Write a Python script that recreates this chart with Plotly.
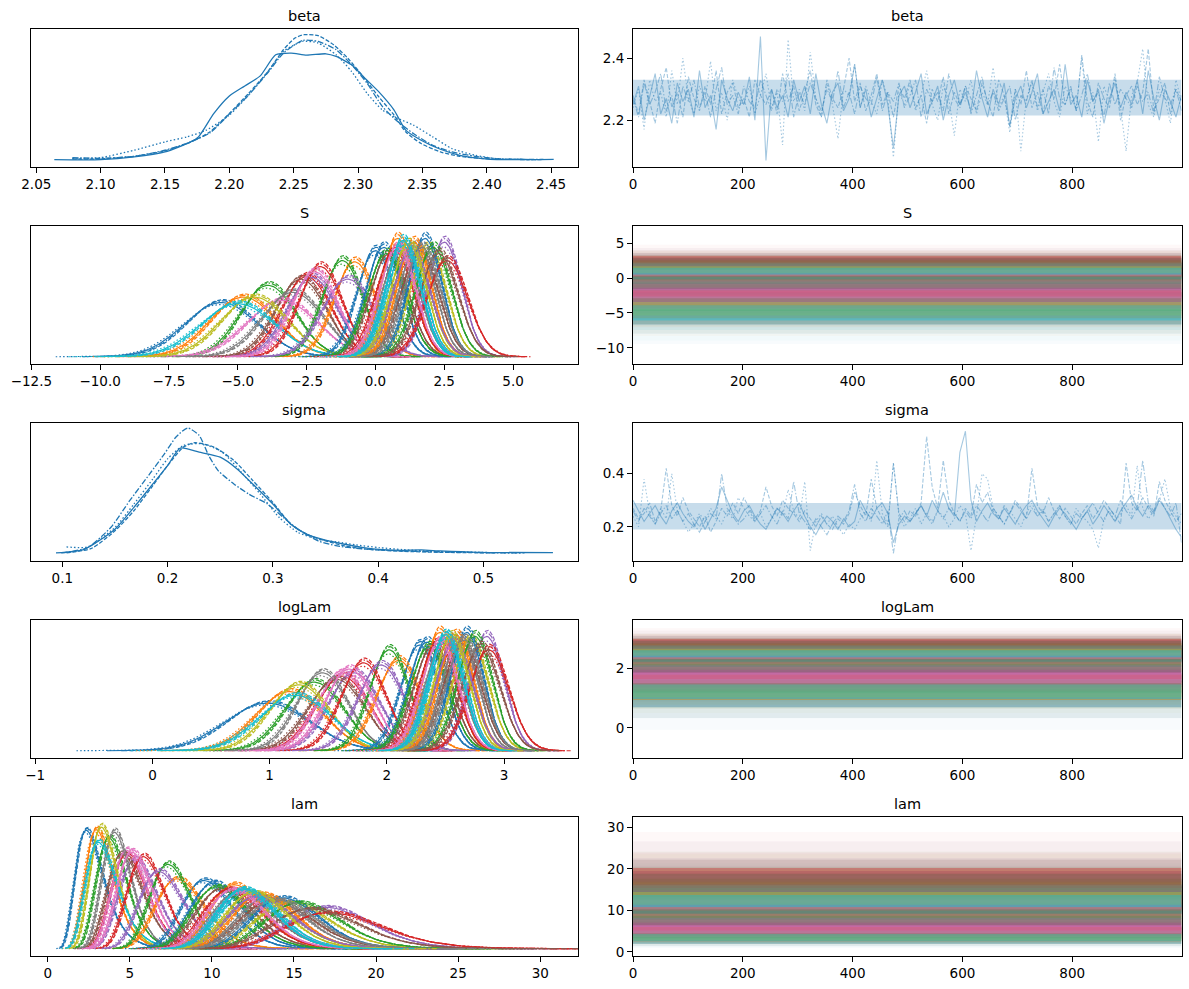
import numpy as np
import plotly.graph_objects as go

FIG_W, FIG_H = 1189, 989
TAB10 = ["#1f77b4", "#ff7f0e", "#2ca02c", "#d62728", "#9467bd",
         "#8c564b", "#e377c2", "#7f7f7f", "#bcbd22", "#17becf"]
CHAIN_DASH = ["solid", "4px,1.8px", "1.5px,2.2px", "6px,1.8px,1.5px,1.8px"]
TITLES = ["beta", "beta", "S", "S", "sigma", "sigma", "logLam", "logLam", "lam", "lam"]
N_DRAWS = 1000

# ---------------- beta: per-chain KDE (x, relative height) ----------------
BETA_KDE_X = [
    [2.064, 2.100, 2.126, 2.150, 2.170, 2.176, 2.188, 2.200, 2.212, 2.224, 2.236, 2.248, 2.260,
     2.275, 2.283, 2.295, 2.304, 2.316, 2.328, 2.337, 2.349, 2.364, 2.379, 2.397, 2.408, 2.452],
    [2.078, 2.100, 2.126, 2.150, 2.170, 2.185, 2.200, 2.215, 2.230, 2.242, 2.251, 2.258, 2.269,
     2.281, 2.292, 2.304, 2.316, 2.328, 2.337, 2.349, 2.364, 2.379, 2.402, 2.444],
    [2.078, 2.100, 2.126, 2.150, 2.167, 2.182, 2.200, 2.215, 2.230, 2.242, 2.257, 2.269, 2.283,
     2.295, 2.307, 2.319, 2.331, 2.343, 2.358, 2.373, 2.391, 2.408, 2.438],
    [2.078, 2.100, 2.126, 2.150, 2.170, 2.185, 2.200, 2.215, 2.230, 2.242, 2.257, 2.269, 2.283,
     2.295, 2.307, 2.319, 2.331, 2.343, 2.358, 2.373, 2.391, 2.411, 2.444],
]
BETA_KDE_H = [
    [0, 0, 8, 23, 53, 68, 138, 190, 220, 250, 313, 318, 312, 316, 308, 283, 248, 203, 148, 88,
     58, 31, 13, 3, 0, 1],
    [2, 2, 10, 26, 53, 83, 138, 198, 263, 328, 363, 373, 370, 343, 303, 248, 188, 133, 83, 48,
     23, 10, 2, 0],
    [3, 6, 28, 53, 68, 88, 133, 193, 263, 323, 353, 348, 313, 263, 198, 148, 123, 103, 68, 33,
     13, 3, 0],
    [6, 4, 10, 28, 53, 80, 136, 193, 260, 318, 356, 353, 328, 283, 228, 158, 113, 78, 43, 23,
     10, 2, 1],
]

# ---------------- sigma: per-chain KDE ----------------
SIGMA_KDE_X = [
    [0.094, 0.121, 0.150, 0.168, 0.186, 0.200, 0.212, 0.230, 0.250, 0.266, 0.284, 0.300, 0.317,
     0.332, 0.350, 0.368, 0.386, 0.404, 0.423, 0.441, 0.459, 0.495, 0.566],
    [0.104, 0.128, 0.150, 0.168, 0.186, 0.200, 0.215, 0.226, 0.244, 0.263, 0.281, 0.300, 0.317,
     0.332, 0.350, 0.368, 0.390, 0.423, 0.459, 0.513],
    [0.104, 0.124, 0.150, 0.168, 0.186, 0.200, 0.215, 0.233, 0.252, 0.270, 0.288, 0.306, 0.324,
     0.343, 0.361, 0.379, 0.401, 0.423, 0.459, 0.535],
    [0.099, 0.124, 0.146, 0.164, 0.183, 0.197, 0.208, 0.219, 0.230, 0.239, 0.248, 0.263, 0.277,
     0.295, 0.310, 0.324, 0.343, 0.361, 0.386, 0.423, 0.477, 0.539],
]
SIGMA_KDE_H = [
    [0, 11, 71, 136, 206, 261, 313, 301, 286, 251, 196, 146, 86, 56, 38, 26, 16, 10, 8, 9, 6, 2, 1],
    [0, 14, 66, 126, 201, 261, 316, 329, 316, 276, 216, 151, 86, 56, 36, 21, 11, 5, 2, 0],
    [18, 18, 76, 146, 221, 281, 321, 326, 301, 241, 176, 106, 61, 41, 33, 24, 16, 10, 4, 0],
    [0, 16, 76, 156, 236, 296, 346, 373, 351, 291, 246, 206, 176, 146, 106, 71, 36, 21, 12, 6, 2, 0],
]

# ---------------- beta / sigma traces (every ~10th draw, 4 chains) ----------------
BETA_TRACE = [
    [2.25, 2.31, 2.20, 2.28, 2.35, 2.22, 2.27, 2.19, 2.32, 2.26,
     2.30, 2.21, 2.36, 2.24, 2.28, 2.17, 2.33, 2.27, 2.23, 2.29,
     2.25, 2.34, 2.20, 2.47, 2.07, 2.30, 2.24, 2.28, 2.21, 2.33,
     2.26, 2.31, 2.22, 2.35, 2.25, 2.19, 2.29, 2.32, 2.23, 2.27,
     2.38, 2.24, 2.30, 2.21, 2.27, 2.33, 2.25, 2.11, 2.28, 2.31,
     2.24, 2.29, 2.35, 2.22, 2.26, 2.31, 2.20, 2.28, 2.33, 2.25,
     2.29, 2.23, 2.36, 2.27, 2.21, 2.30, 2.25, 2.32, 2.18, 2.27,
     2.31, 2.24, 2.29, 2.35, 2.22, 2.26, 2.30, 2.23, 2.38, 2.25,
     2.28, 2.21, 2.33, 2.26, 2.30, 2.19, 2.27, 2.32, 2.24, 2.29,
     2.25, 2.33, 2.22, 2.36, 2.27, 2.20, 2.30, 2.26, 2.21, 2.28],
    [2.28, 2.22, 2.33, 2.26, 2.19, 2.30, 2.37, 2.24, 2.29, 2.21,
     2.34, 2.27, 2.23, 2.31, 2.25, 2.36, 2.22, 2.29, 2.32, 2.24,
     2.27, 2.21, 2.33, 2.28, 2.25, 2.30, 2.22, 2.35, 2.26, 2.31,
     2.23, 2.29, 2.36, 2.25, 2.21, 2.33, 2.27, 2.24, 2.30, 2.40,
     2.26, 2.32, 2.23, 2.28, 2.35, 2.25, 2.29, 2.21, 2.31, 2.27,
     2.33, 2.24, 2.28, 2.19, 2.30, 2.26, 2.34, 2.22, 2.29, 2.25,
     2.31, 2.27, 2.23, 2.32, 2.26, 2.21, 2.33, 2.28, 2.18, 2.30,
     2.25, 2.36, 2.24, 2.29, 2.22, 2.31, 2.27, 2.38, 2.25, 2.30,
     2.23, 2.41, 2.26, 2.21, 2.32, 2.27, 2.24, 2.35, 2.20, 2.28,
     2.31, 2.25, 2.29, 2.43, 2.23, 2.27, 2.32, 2.22, 2.30, 2.26],
    [2.24, 2.30, 2.17, 2.33, 2.26, 2.29, 2.21, 2.36, 2.25, 2.40,
     2.27, 2.22, 2.31, 2.26, 2.39, 2.23, 2.29, 2.20, 2.33, 2.27,
     2.25, 2.31, 2.22, 2.28, 2.35, 2.24, 2.29, 2.12, 2.46, 2.26,
     2.30, 2.23, 2.42, 2.27, 2.21, 2.32, 2.25, 2.14, 2.30, 2.28,
     2.38, 2.24, 2.31, 2.26, 2.22, 2.33, 2.27, 2.08, 2.29, 2.25,
     2.32, 2.23, 2.28, 2.36, 2.25, 2.20, 2.31, 2.27, 2.15, 2.30,
     2.26, 2.33, 2.22, 2.29, 2.25, 2.37, 2.24, 2.28, 2.16, 2.30,
     2.10, 2.27, 2.32, 2.23, 2.29, 2.35, 2.26, 2.21, 2.31, 2.27,
     2.24, 2.40, 2.22, 2.29, 2.13, 2.31, 2.26, 2.34, 2.24, 2.10,
     2.28, 2.32, 2.43, 2.25, 2.21, 2.30, 2.27, 2.19, 2.33, 2.26],
    [2.27, 2.21, 2.32, 2.25, 2.29, 2.35, 2.23, 2.28, 2.19, 2.31,
     2.26, 2.33, 2.24, 2.29, 2.21, 2.30, 2.37, 2.25, 2.28, 2.22,
     2.31, 2.26, 2.24, 2.33, 2.28, 2.23, 2.30, 2.26, 2.35, 2.21,
     2.29, 2.25, 2.32, 2.27, 2.23, 2.30, 2.26, 2.36, 2.24, 2.29,
     2.22, 2.31, 2.27, 2.25, 2.34, 2.23, 2.29, 2.26, 2.32, 2.24,
     2.28, 2.33, 2.21, 2.30, 2.26, 2.29, 2.23, 2.35, 2.27, 2.24,
     2.31, 2.22, 2.28, 2.34, 2.25, 2.29, 2.23, 2.27, 2.31, 2.20,
     2.28, 2.26, 2.33, 2.24, 2.30, 2.22, 2.37, 2.27, 2.25, 2.31,
     2.23, 2.28, 2.35, 2.26, 2.29, 2.21, 2.32, 2.25, 2.30, 2.27,
     2.24, 2.31, 2.26, 2.29, 2.22, 2.34, 2.27, 2.25, 2.30, 2.23],
]
SIGMA_TRACE = [
    [0.30, 0.26, 0.22, 0.25, 0.28, 0.24, 0.21, 0.26, 0.29, 0.25,
     0.22, 0.20, 0.24, 0.19, 0.23, 0.27, 0.35, 0.30, 0.25, 0.22,
     0.26, 0.28, 0.24, 0.21, 0.19, 0.23, 0.27, 0.25, 0.22, 0.26,
     0.29, 0.24, 0.20, 0.17, 0.21, 0.24, 0.22, 0.19, 0.23, 0.20,
     0.22, 0.30, 0.26, 0.23, 0.27, 0.29, 0.25, 0.14, 0.21, 0.24,
     0.22, 0.25, 0.28, 0.24, 0.30, 0.26, 0.33, 0.27, 0.24, 0.48,
     0.56, 0.30, 0.22, 0.26, 0.29, 0.25, 0.23, 0.27, 0.24, 0.21,
     0.25, 0.28, 0.30, 0.26, 0.23, 0.20, 0.24, 0.27, 0.25, 0.22,
     0.19, 0.23, 0.26, 0.21, 0.24, 0.28, 0.25, 0.22, 0.26, 0.29,
     0.32, 0.27, 0.24, 0.28, 0.25, 0.30, 0.27, 0.23, 0.19, 0.16],
    [0.27, 0.23, 0.25, 0.29, 0.22, 0.26, 0.42, 0.28, 0.24, 0.31,
     0.26, 0.23, 0.20, 0.24, 0.18, 0.22, 0.27, 0.24, 0.29, 0.25,
     0.31, 0.27, 0.23, 0.26, 0.35, 0.28, 0.24, 0.30, 0.27, 0.25,
     0.22, 0.26, 0.23, 0.20, 0.24, 0.21, 0.19, 0.23, 0.21, 0.25,
     0.33, 0.28, 0.24, 0.38, 0.27, 0.23, 0.20, 0.44, 0.25, 0.22,
     0.26, 0.24, 0.29, 0.54, 0.35, 0.27, 0.45, 0.30, 0.25, 0.22,
     0.27, 0.24, 0.36, 0.29, 0.33, 0.26, 0.23, 0.28, 0.25, 0.30,
     0.27, 0.23, 0.42, 0.28, 0.25, 0.31, 0.26, 0.23, 0.27, 0.24,
     0.21, 0.25, 0.28, 0.23, 0.26, 0.30, 0.27, 0.24, 0.21, 0.44,
     0.29, 0.26, 0.31, 0.27, 0.24, 0.37, 0.30, 0.26, 0.22, 0.25],
    [0.24, 0.20, 0.38, 0.25, 0.21, 0.27, 0.23, 0.40, 0.26, 0.22,
     0.18, 0.21, 0.25, 0.22, 0.27, 0.24, 0.21, 0.26, 0.23, 0.31,
     0.27, 0.24, 0.22, 0.25, 0.20, 0.23, 0.27, 0.24, 0.34, 0.26,
     0.23, 0.37, 0.11, 0.22, 0.25, 0.21, 0.24, 0.20, 0.17, 0.21,
     0.19, 0.23, 0.26, 0.22, 0.45, 0.25, 0.21, 0.44, 0.24, 0.20,
     0.23, 0.27, 0.21, 0.25, 0.22, 0.26, 0.24, 0.20, 0.23, 0.28,
     0.25, 0.11, 0.24, 0.40, 0.38, 0.27, 0.24, 0.21, 0.26, 0.23,
     0.20, 0.25, 0.29, 0.24, 0.27, 0.22, 0.25, 0.28, 0.24, 0.21,
     0.27, 0.24, 0.22, 0.19, 0.12, 0.23, 0.26, 0.22, 0.25, 0.28,
     0.24, 0.43, 0.27, 0.23, 0.26, 0.30, 0.38, 0.27, 0.24, 0.21],
    [0.26, 0.22, 0.27, 0.24, 0.21, 0.25, 0.28, 0.23, 0.26, 0.22,
     0.25, 0.21, 0.18, 0.22, 0.25, 0.23, 0.40, 0.27, 0.24, 0.21,
     0.23, 0.26, 0.22, 0.25, 0.28, 0.24, 0.21, 0.26, 0.23, 0.37,
     0.25, 0.22, 0.19, 0.23, 0.20, 0.17, 0.21, 0.24, 0.22, 0.26,
     0.36, 0.25, 0.22, 0.27, 0.24, 0.21, 0.26, 0.10, 0.23, 0.26,
     0.22, 0.25, 0.28, 0.24, 0.21, 0.26, 0.23, 0.27, 0.25, 0.22,
     0.26, 0.23, 0.28, 0.25, 0.22, 0.27, 0.24, 0.21, 0.25, 0.29,
     0.26, 0.23, 0.27, 0.24, 0.26, 0.22, 0.25, 0.28, 0.24, 0.21,
     0.25, 0.23, 0.26, 0.29, 0.25, 0.22, 0.27, 0.24, 0.30, 0.26,
     0.23, 0.27, 0.45, 0.29, 0.26, 0.31, 0.27, 0.24, 0.29, 0.14],
]
# dense core of the beta / sigma traces (where the four chains overlap most)
BETA_CORE = [2.215, 2.33]
SIGMA_CORE = [0.19, 0.29]

# ---------------- vector parameters: per-component posterior location / spread ----------------
S_MEAN = [-5.6, -4.8, -3.9, -2.5, -2.3, -2.7, -3.4, -3.0, -4.4, -5.0,
          0.0, -0.75, -1.2, -2.0, -1.0, 0.5, -2.2, 0.9, 1.3, 1.1,
          0.3, 0.8, 0.4, 0.7, 2.5, 1.6, 1.0, 1.5, 1.9, 1.0,
          1.8, 1.4, 2.1, 2.6, 1.3, 2.3, 0.8, 1.7, 1.2, 1.0]
S_SD = [1.33, 1.21, 1.01, 0.90, 0.91, 0.93, 1.28, 1.12, 1.21, 1.36,
        0.68, 0.76, 0.75, 0.80, 0.93, 0.70, 0.85, 0.68, 0.66, 0.64,
        0.66, 0.61, 0.70, 0.68, 0.63, 0.68, 0.66, 0.65, 0.66, 0.65,
        0.61, 0.63, 0.66, 0.75, 0.68, 0.70, 0.66, 0.66, 0.64, 0.62]
LOGLAM_MEAN = [0.98, 1.17, 1.38, 1.62, 1.72, 1.57, 1.62, 1.45, 1.25, 1.22,
               2.28, 2.10, 2.02, 1.80, 1.95, 2.39, 1.68, 2.48, 2.57, 2.52,
               2.34, 2.45, 2.36, 2.43, 2.85, 2.64, 2.50, 2.62, 2.71, 2.50,
               2.68, 2.59, 2.75, 2.87, 2.57, 2.80, 2.45, 2.66, 2.55, 2.50]
LOGLAM_SD = [0.36, 0.29, 0.25, 0.23, 0.22, 0.24, 0.22, 0.22, 0.26, 0.31,
             0.162, 0.19, 0.17, 0.195, 0.20, 0.165, 0.21, 0.16, 0.155, 0.15,
             0.158, 0.145, 0.165, 0.16, 0.15, 0.16, 0.155, 0.152, 0.155, 0.152,
             0.145, 0.148, 0.15, 0.17, 0.16, 0.165, 0.158, 0.155, 0.15, 0.148]
# chain-to-chain differences (in units of each component's spread) and sample extents
CHAIN_SHIFT = [0.0, 0.06, -0.05, 0.03]
CHAIN_WIDTH = [1.0, 0.95, 1.04, 0.97]
CHAIN_LO = [3.8, 3.5, 4.3, 3.6]
CHAIN_HI = [3.6, 4.0, 3.5, 4.2]
# trace bands drawn per component: (half-width in spreads, opacity)
TRACE_BANDS = [(2.9, 0.03), (1.8, 0.07), (0.8, 0.42)]

# ---------------- axes ----------------
X_RANGES = [[2.0455, 2.4709], [0, 999], [-12.53, 7.36], [0, 999], [0.0698, 0.5898], [0, 999],
            [-1.04, 3.63], [0, 999], [-1.05, 32.3], [0, 999]]
X_TICKS = [[2.05, 2.10, 2.15, 2.20, 2.25, 2.30, 2.35, 2.40, 2.45], [0, 200, 400, 600, 800],
           [-12.5, -10.0, -7.5, -5.0, -2.5, 0.0, 2.5, 5.0], [0, 200, 400, 600, 800],
           [0.1, 0.2, 0.3, 0.4, 0.5], [0, 200, 400, 600, 800],
           [-1, 0, 1, 2, 3], [0, 200, 400, 600, 800],
           [0, 5, 10, 15, 20, 25, 30], [0, 200, 400, 600, 800]]
X_FMT = [".2f", "d", ".1f", "d", ".1f", "d", "d", "d", "d", "d"]
Y_TRACE_RANGES = {1: [2.049, 2.494], 3: [-12.33, 7.48], 5: [0.071, 0.591], 7: [-1.02, 3.64], 9: [-0.97, 32.5]}
Y_TRACE_TICKS = {1: [2.2, 2.4], 3: [-10, -5, 0, 5], 5: [0.2, 0.4], 7: [0, 2], 9: [0, 10, 20, 30]}
Y_TRACE_FMT = {1: ".1f", 3: "d", 5: ".1f", 7: "d", 9: "d"}

COL_X_PX = [(30.5, 578.0), (633.0, 1181.5)]
ROW_Y_PX = [(29, 167), (226, 364), (423, 561), (620, 758), (817, 956)]


def axnames(p):
    return ("x" if p == 0 else f"x{p + 1}", "y" if p == 0 else f"y{p + 1}")


def normal_pdf(g, m, s):
    return np.exp(-0.5 * ((g - m) / s) ** 2) / (s * np.sqrt(2 * np.pi))


def hex_rgba(h, a):
    h = h.lstrip("#")
    return f"rgba({int(h[0:2], 16)},{int(h[2:4], 16)},{int(h[4:6], 16)},{a})"


def band(xa, ya, lo, hi, color):
    return go.Scatter(x=[0, N_DRAWS - 1, N_DRAWS - 1, 0, 0], y=[lo, lo, hi, hi, lo],
                      mode="lines", fill="toself", fillcolor=color, line=dict(width=0),
                      xaxis=xa, yaxis=ya, hoverinfo="skip", showlegend=False)


fig = go.Figure()
kde_max = {}

# single-variable KDEs
for p, xs_all, hs_all in [(0, BETA_KDE_X, BETA_KDE_H), (4, SIGMA_KDE_X, SIGMA_KDE_H)]:
    xa, ya = axnames(p)
    for c in range(4):
        fig.add_trace(go.Scatter(x=xs_all[c], y=hs_all[c], mode="lines", xaxis=xa, yaxis=ya,
                                 line=dict(color=TAB10[0], width=1.3, dash=CHAIN_DASH[c], shape="spline",
                                           smoothing=0.6),
                                 hoverinfo="skip", showlegend=False))
    kde_max[p] = max(max(h) for h in hs_all)

# single-variable traces
for p, chains, core in [(1, BETA_TRACE, BETA_CORE), (5, SIGMA_TRACE, SIGMA_CORE)]:
    xa, ya = axnames(p)
    fig.add_trace(band(xa, ya, core[0], core[1], hex_rgba(TAB10[0], 0.25)))
    for c in range(4):
        vals = chains[c]
        it = np.arange(len(vals)) * (N_DRAWS - 1) / (len(vals) - 1)
        fig.add_trace(go.Scatter(x=it, y=vals, mode="lines", xaxis=xa, yaxis=ya, opacity=0.4,
                                 line=dict(color=TAB10[0], width=1.1, dash=CHAIN_DASH[c]),
                                 hoverinfo="skip", showlegend=False))

# vector-variable KDEs
for p, means, sds, is_exp in [(2, S_MEAN, S_SD, False), (6, LOGLAM_MEAN, LOGLAM_SD, False),
                              (8, LOGLAM_MEAN, LOGLAM_SD, True)]:
    xa, ya = axnames(p)
    mx = 0.0
    for j in range(len(means)):
        col = TAB10[j % 10]
        for c in range(4):
            m = means[j] + CHAIN_SHIFT[c] * sds[j]
            s = sds[j] * CHAIN_WIDTH[c]
            g = np.linspace(m - CHAIN_LO[c] * s, m + CHAIN_HI[c] * s, 90)
            dens = normal_pdf(g, m, s)
            if is_exp:
                xv = np.exp(g)
                dens = dens / xv
            else:
                xv = g
            mx = max(mx, float(dens.max()))
            fig.add_trace(go.Scatter(x=xv, y=dens, mode="lines", xaxis=xa, yaxis=ya,
                                     line=dict(color=col, width=1.2, dash=CHAIN_DASH[c]),
                                     hoverinfo="skip", showlegend=False))
    kde_max[p] = mx

# vector-variable traces (drawn as the band each component's chains sweep)
for p, means, sds, is_exp in [(3, S_MEAN, S_SD, False), (7, LOGLAM_MEAN, LOGLAM_SD, False),
                              (9, LOGLAM_MEAN, LOGLAM_SD, True)]:
    xa, ya = axnames(p)
    for j in range(len(means)):
        col = TAB10[j % 10]
        for k, a in TRACE_BANDS:
            lo = means[j] - k * sds[j]
            hi = means[j] + k * sds[j]
            if is_exp:
                lo, hi = np.exp(lo), np.exp(hi)
            fig.add_trace(band(xa, ya, lo, hi, hex_rgba(col, a)))

layout = dict(width=FIG_W, height=FIG_H, margin=dict(l=0, r=0, t=0, b=0, pad=0, autoexpand=False),
              paper_bgcolor="white", plot_bgcolor="white",
              font=dict(family="DejaVu Sans", size=13.5, color="black"), showlegend=False)
annotations = []
for p in range(10):
    r, c = divmod(p, 2)
    x0, x1 = COL_X_PX[c]
    t, b = ROW_Y_PX[r]
    xd = [x0 / FIG_W, x1 / FIG_W]
    yd = [1 - b / FIG_H, 1 - t / FIG_H]
    xa, ya = axnames(p)
    xkey = "xaxis" if p == 0 else f"xaxis{p + 1}"
    ykey = "yaxis" if p == 0 else f"yaxis{p + 1}"
    common = dict(showline=True, mirror=True, linecolor="black", linewidth=1, showgrid=False,
                  zeroline=False, ticks="outside", ticklen=5, tickwidth=1, tickcolor="black",
                  automargin=False,
                  tickfont=dict(family="DejaVu Sans", size=13.5, color="black"))
    layout[xkey] = dict(domain=xd, anchor=ya, range=X_RANGES[p], tickmode="array",
                        tickvals=X_TICKS[p], tickformat=X_FMT[p], **common)
    if c == 0:
        mx = kde_max[p]
        if p == 0:
            yr = [-22, 390]
        elif p == 4:
            yr = [-24, 388]
        else:
            yr = [-0.058 * mx, 1.05 * mx]
        layout[ykey] = dict(domain=yd, anchor=xa, range=yr, showticklabels=False,
                            **{**common, "ticks": ""})
    else:
        layout[ykey] = dict(domain=yd, anchor=xa, range=Y_TRACE_RANGES[p], tickmode="array",
                            tickvals=Y_TRACE_TICKS[p], tickformat=Y_TRACE_FMT[p], **common)
    annotations.append(dict(text=TITLES[p], x=(xd[0] + xd[1]) / 2, y=yd[1], xref="paper", yref="paper",
                            xanchor="center", yanchor="bottom", yshift=3, showarrow=False,
                            font=dict(family="DejaVu Sans", size=14.5, color="black")))
layout["annotations"] = annotations
fig.update_layout(**layout)
fig.write_html("out.html", config={"displayModeBar": False},
               post_script="document.body.style.margin='0px';")
